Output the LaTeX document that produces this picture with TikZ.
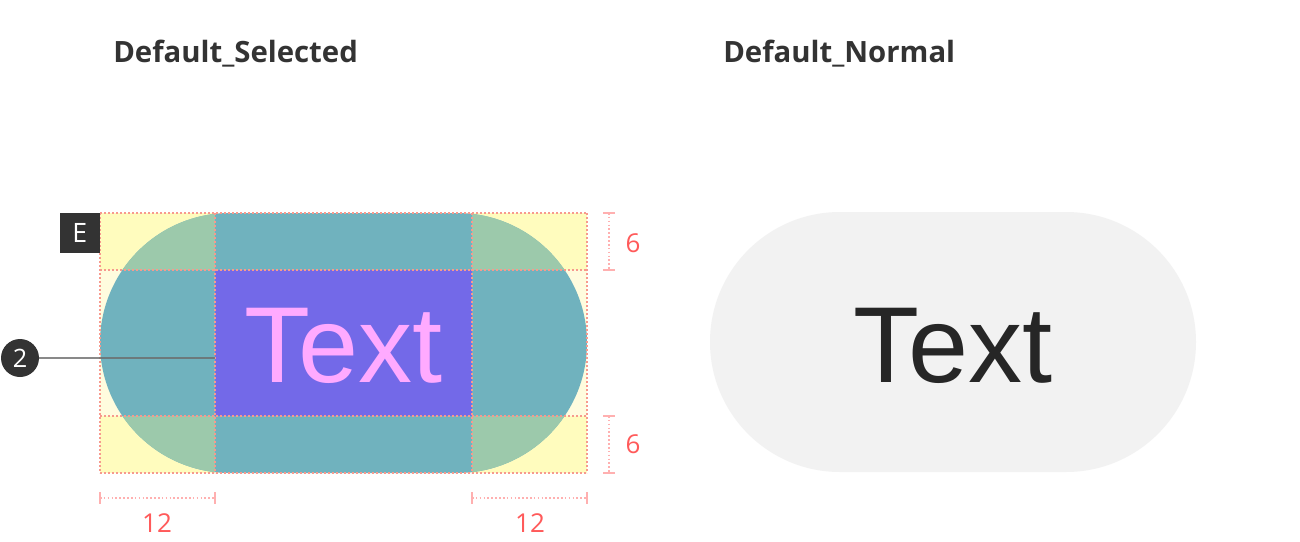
\documentclass[tikz,border=0pt]{standalone}
\usepackage{fontspec}
\setmainfont{Open Sans}
\newfontfamily\txtfont{Liberation Sans}
\newfontfamily\lightfont{Open Sans}
\definecolor{cream}{HTML}{FFFCDE}
\definecolor{yel}{HTML}{FFFCBE}
\definecolor{tealc}{HTML}{70B2BE}
\definecolor{grn}{HTML}{9CC9AB}
\definecolor{purp}{HTML}{7369E8}
\definecolor{pinktxt}{HTML}{FFAAFF}
\definecolor{guide}{HTML}{F79A8E}
\definecolor{dimline}{HTML}{FFB0B0}
\definecolor{dimtxt}{HTML}{FF5A5A}
\definecolor{darkc}{HTML}{333333}
\definecolor{pillgray}{HTML}{F2F2F2}
\definecolor{txtdark}{HTML}{262626}
\tikzset{
  guideline/.style={guide, line width=1.3pt, dash pattern=on 1.3pt off 1.7pt},
  dimstroke/.style={dimline, line width=1.1pt, dash pattern=on 1.2pt off 1.7pt},
  dimtick/.style={dimline, line width=1.1pt},
  dimlabel/.style={text=dimtxt, font=\lightfont\fontsize{19.5}{19.5}\selectfont, inner sep=0pt},
  title/.style={text=darkc, font=\fontsize{22}{22}\selectfont\bfseries, anchor=base west, inner sep=0pt},
  bigtext/.style={font=\txtfont\fontsize{81}{81}\selectfont, anchor=base, inner sep=0pt},
}
\begin{document}
\begin{tikzpicture}[x=0.75pt,y=-0.75pt]
\useasboundingbox[fill=white] (0,0) rectangle (1300,542);
% titles
\node[title] (t1) at (113,63) {Default\_Selected};
\node[title] (t2) at (723,63) {Default\_Normal};
% left component
\fill[cream] (100,213) rectangle (587,473);
\fill[yel] (100,213) rectangle (215,270);
\fill[yel] (472,213) rectangle (587,270);
\fill[yel] (100,416) rectangle (215,473);
\fill[yel] (472,416) rectangle (587,473);
\fill[tealc, rounded corners=97.5pt] (100,213) rectangle (587,473);
\begin{scope}
  \clip[rounded corners=97.5pt] (100,213) rectangle (587,473);
  \fill[grn] (100,213) rectangle (215,270);
  \fill[grn] (472,213) rectangle (587,270);
  \fill[grn] (100,416) rectangle (215,473);
  \fill[grn] (472,416) rectangle (587,473);
\end{scope}
\fill[purp] (215,270) rectangle (472,416);
\node[bigtext, text=pinktxt] (lt) at (343.5,382) {Text};
% guides
\foreach \x in {100,215,472,587} \draw[guideline] (\x,213) -- (\x,473);
\foreach \y in {213,270,416,473} \draw[guideline] (100,\y) -- (587,\y);
% badge E
\node[fill=darkc, minimum size=30pt, inner sep=0pt, anchor=north east, text=white, font=\lightfont\fontsize{20}{20}\selectfont] (badge) at (100,213) {E};
% callout 2
\coordinate (pad) at (215,358);
\node[circle, fill=darkc, minimum size=28.5pt, inner sep=0pt, text=white, font=\fontsize{19}{19}\selectfont] (two) at (20,358) {2};
\draw[gray!85!black, line width=1pt, opacity=0.8] (two.east) -- (pad);
% dimensions right
\coordinate (r1a) at (609,213); \coordinate (r1b) at (609,270);
\draw[dimstroke] (r1a) -- (r1b);
\draw[dimtick] (603,213) -- (615,213) (603,270) -- (615,270);
\node[dimlabel] (d1) at (633,243) {6};
\coordinate (r2a) at (609,416); \coordinate (r2b) at (609,473);
\draw[dimstroke] (r2a) -- (r2b);
\draw[dimtick] (603,416) -- (615,416) (603,473) -- (615,473);
\node[dimlabel] (d2) at (633,444) {6};
% dimensions bottom
\coordinate (b1a) at (100,498); \coordinate (b1b) at (215,498);
\draw[dimstroke] (b1a) -- (b1b);
\draw[dimtick] (100,492) -- (100,504) (215,492) -- (215,504);
\node[dimlabel] (d3) at (157,523) {12};
\coordinate (b2a) at (472,498); \coordinate (b2b) at (587,498);
\draw[dimstroke] (b2a) -- (b2b);
\draw[dimtick] (472,492) -- (472,504) (587,492) -- (587,504);
\node[dimlabel] (d4) at (530,523) {12};
% right component
\fill[pillgray, rounded corners=97.5pt] (710,212) rectangle (1196,472);
\node[bigtext, text=txtdark] (rt) at (953,382) {Text};
\end{tikzpicture}
\end{document}
